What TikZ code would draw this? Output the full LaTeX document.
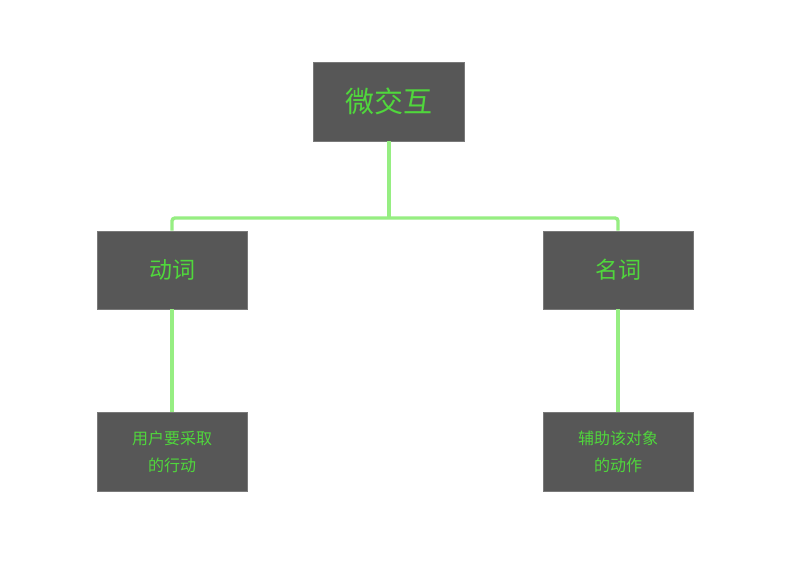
\documentclass[tikz,border=0pt]{standalone}
\usepackage{fontspec}
\newfontfamily\cjk{Noto Sans CJK SC}
\definecolor{boxfill}{RGB}{87,87,87}
\definecolor{txtgreen}{RGB}{80,215,60}
\definecolor{linegreen}{RGB}{150,238,130}
\begin{document}
\begin{tikzpicture}[x=1pt,y=-1pt,
  box/.style={draw=boxfill!80!white, line width=0.6pt, fill=boxfill, minimum width=150pt, minimum height=78pt, inner sep=0pt, text=txtgreen, align=center},
  conn/.style={draw=linegreen, line width=3.4pt, rounded corners=3pt}]
\useasboundingbox[fill=white] (0,0) rectangle (800,585);
\node[box, minimum width=151pt, minimum height=79pt, font=\cjk\fontsize{29}{34}\selectfont] (top) at (389,101.5) {微交互};
\node[box, font=\cjk\fontsize{23}{28}\selectfont] (verb) at (172,270) {动词};
\node[box, font=\cjk\fontsize{23}{28}\selectfont] (noun) at (618,270) {名词};
\node[box, minimum height=79pt, font=\cjk\fontsize{16}{27}\selectfont] (vdet) at (172,451.5) {用户要采取\\的行动};
\node[box, minimum height=79pt, font=\cjk\fontsize{16}{27}\selectfont] (ndet) at (618,451.5) {辅助该对象\\的动作};
\coordinate (hub) at (389,218);
\draw[conn] (verb.north) -- (172,218) -- (618,218) -- (noun.north);
\draw[conn] (top.south) -- (hub);
\draw[conn] (verb.south) -- (vdet.north);
\draw[conn] (noun.south) -- (ndet.north);
\end{tikzpicture}
\end{document}
